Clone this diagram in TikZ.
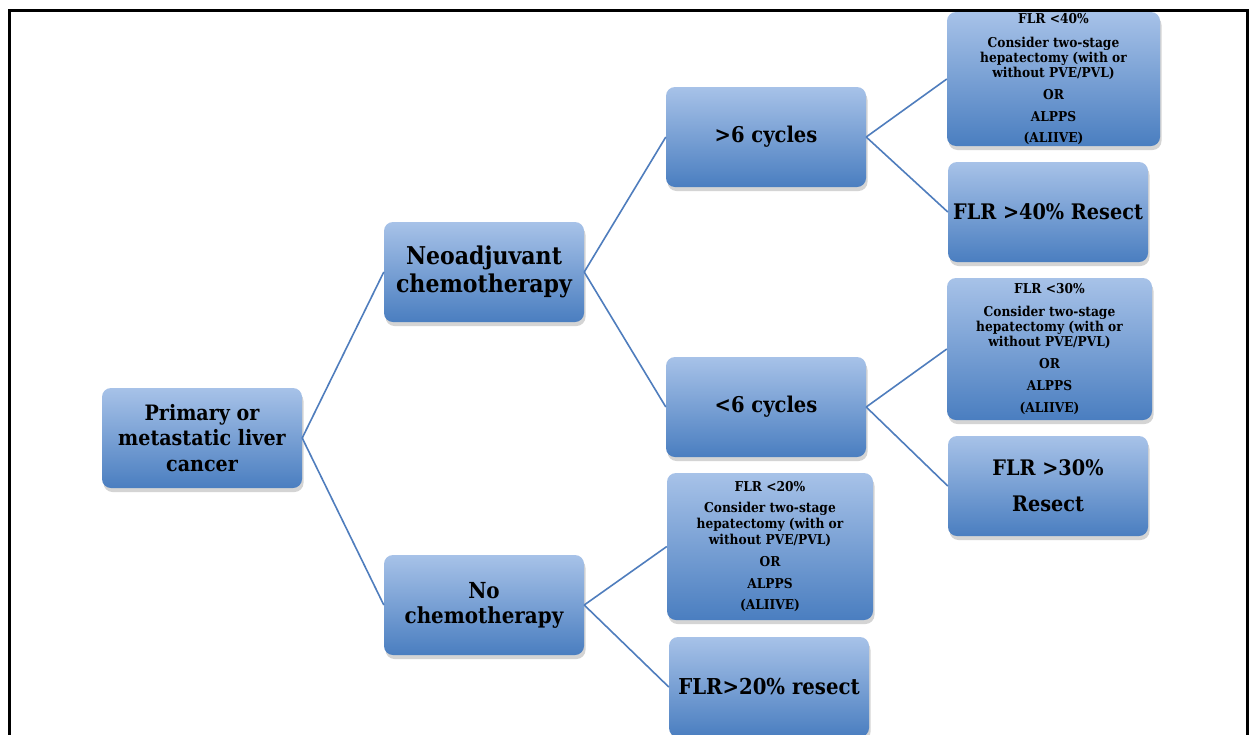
\documentclass[tikz,border=0pt]{standalone}
\usepackage{fontspec}
\setmainfont{DejaVu Serif}[FakeStretch=0.9]
\usetikzlibrary{shadows}
\definecolor{boxtop}{HTML}{A7C2E8}
\definecolor{boxbot}{HTML}{4A7EC0}
\definecolor{linkc}{HTML}{4F7DBD}
\tikzset{
  fbox/.style={rounded corners=9pt, top color=boxtop, bottom color=boxbot,
    draw=none, align=center, inner sep=0pt, text=black,
    font=\bfseries,
    drop shadow={shadow xshift=1.5pt, shadow yshift=-4pt, opacity=0.28, fill=black!60}},
  big/.style={fbox, minimum width=200pt, minimum height=100pt, font=\fontsize{21.7}{26}\selectfont\bfseries},
  small/.style={fbox, font=\fontsize{13.6}{15}\selectfont\bfseries},
  link/.style={draw=linkc, line width=1.6pt}
}
\begin{document}
\begin{tikzpicture}[x=1pt,y=-1pt]
\useasboundingbox (0,0) rectangle (1250,734);
\fill[white] (0,0) rectangle (1250,734);
\draw[line width=2.6pt] (9.5,760) -- (9.5,10.5) -- (1247.5,10.5) -- (1247.5,760);

\node[big, font=\fontsize{21.2}{25.5}\selectfont\bfseries] (prim) at (202,438) {Primary or\\metastatic liver\\cancer};
\node[big, font=\fontsize{24.5}{28}\selectfont\bfseries] (neo) at (484,272) {Neoadjuvant\\chemotherapy};
\node[big, font=\fontsize{22.1}{25}\selectfont\bfseries] (noc) at (484,605) {No\\chemotherapy};
\node[big] (gt6) at (766,137) {>6 cycles};
\node[big] (lt6) at (766,407) {<6 cycles};

\node[small, minimum width=213pt, minimum height=134pt] (f40a) at (1053.5,79) {FLR <40\%\\[9pt]Consider two-stage\\hepatectomy (with or\\without PVE/PVL)\\[7pt]OR\\[7pt]ALPPS\\[6pt](ALIIVE)};
\node[big, font=\fontsize{21.4}{26}\selectfont\bfseries] (f40b) at (1048,212) {FLR >40\% Resect};

\node[small, minimum width=205pt, minimum height=142pt] (f30a) at (1049.5,349) {FLR <30\%\\[8pt]Consider two-stage\\hepatectomy (with or\\without PVE/PVL)\\[7pt]OR\\[7pt]ALPPS\\[7pt](ALIIVE)};
\node[big, font=\fontsize{21.4}{36}\selectfont\bfseries] (f30b) at (1048,486) {FLR >30\%\\Resect};

\node[small, minimum width=206pt, minimum height=147pt, font=\fontsize{13.6}{16.3}\selectfont\bfseries] (f20a) at (770,546.5) {FLR <20\%\\[5pt]Consider two-stage\\hepatectomy (with or\\without PVE/PVL)\\[5pt]OR\\[6pt]ALPPS\\[5pt](ALIIVE)};
\node[big, font=\fontsize{21.9}{26}\selectfont\bfseries] (f20b) at (769,687) {FLR>20\% resect};

\draw[link] (prim.east) -- (neo.west);
\draw[link] (prim.east) -- (noc.west);
\draw[link] (neo.east) -- (gt6.west);
\draw[link] (neo.east) -- (lt6.west);
\draw[link] (gt6.east) -- (f40a.west);
\draw[link] (gt6.east) -- (f40b.west);
\draw[link] (lt6.east) -- (f30a.west);
\draw[link] (lt6.east) -- (f30b.west);
\draw[link] (noc.east) -- (f20a.west);
\draw[link] (noc.east) -- (f20b.west);
\end{tikzpicture}
\end{document}
